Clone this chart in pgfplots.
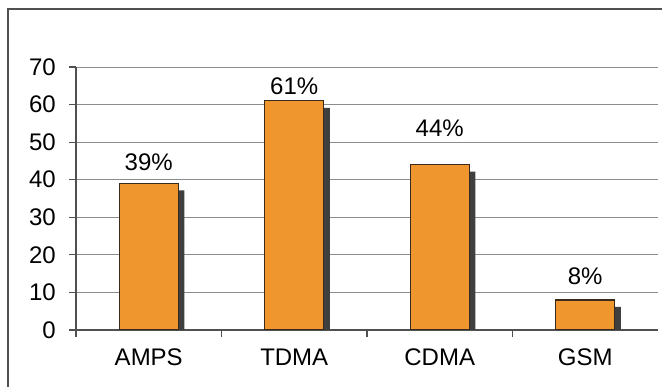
\documentclass[border=0pt]{standalone}
\usepackage{fontspec}
\setmainfont{Liberation Sans}
\usepackage{pgfplots}
\usepackage{pgfplotstable}
\pgfplotsset{compat=1.18}

\definecolor{barfill}{HTML}{F0962E}
\definecolor{baredge}{HTML}{3A2A1C}
\definecolor{barshadow}{HTML}{3F3F3F}
\definecolor{gridc}{HTML}{8C8C8C}
\definecolor{axisc}{HTML}{505050}

% share per system; off = height of its label above the bar top (pt)
\pgfplotstableread{
x share off
0 39 21
1 61 15
2 44 36
3 8  24
}\share

\begin{document}
\begin{tikzpicture}
\useasboundingbox (0,0) rectangle (662pt,387pt);
% frame round the chart
\draw[axisc, line width=1.5pt] (8pt,0pt) -- (8pt,378pt) -- (662pt,378pt);
\begin{axis}[
  at={(76pt,57pt)}, anchor=south west,
  scale only axis, width=582pt, height=263pt,
  xmin=-0.5, xmax=3.5, ymin=0, ymax=70,
  ytick={0,10,...,70},
  xtick={-0.5,0.5,1.5,2.5}, xticklabels={},
  extra x ticks={0,1,2,3},
  extra x tick labels={AMPS,TDMA,CDMA,GSM},
  extra x tick style={major tick length=0pt},
  axis x line*=bottom, axis y line*=left,
  axis line style={axisc, line width=1.5pt},
  tick align=outside, major tick length=7pt,
  tick style={axisc, line width=1.2pt},
  ymajorgrids, grid style={gridc, line width=0.9pt},
  /pgf/number format/assume math mode=true,
  tick label style={font=\fontsize{24}{29}\selectfont, inner sep=0pt},
  yticklabel style={anchor=east, xshift=-13pt},
  xticklabel style={anchor=north, yshift=-19pt},
]
% drop shadow behind each bar
\addplot[ybar, bar width=59pt, bar shift=6pt, fill=barshadow, draw=none, yshift=-7pt]
  table[x=x, y=share]{\share};
% the bars with their percentage labels
\addplot[ybar, bar width=59pt, bar shift=0pt, fill=barfill, draw=baredge, line width=1.3pt,
  nodes near coords={\pgfmathprintnumber{\pgfplotspointmeta}\%},
  visualization depends on={\thisrow{off} \as \off},
  every node near coord/.append style={anchor=center, yshift=\off pt, text=black,
    font=\fontsize{24}{29}\selectfont, inner sep=0pt}]
  table[x=x, y=share]{\share};
\end{axis}
\end{tikzpicture}
\end{document}
